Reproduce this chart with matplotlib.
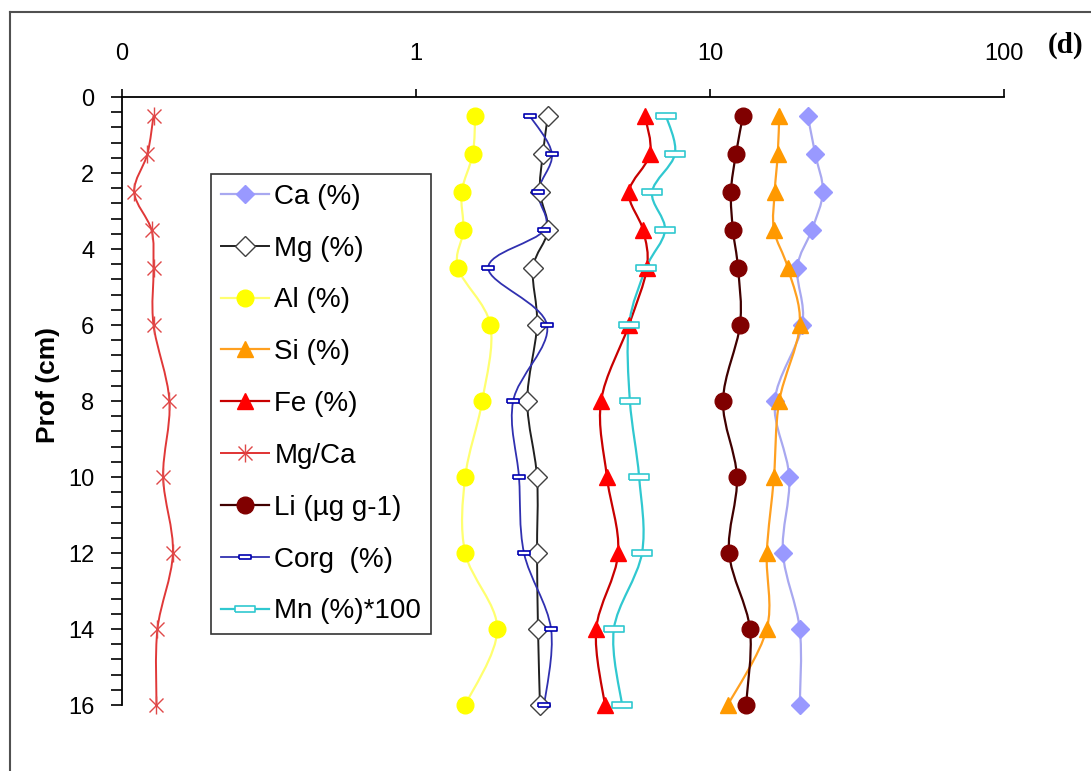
import numpy as np
import matplotlib
matplotlib.use('Agg')
import matplotlib.pyplot as plt
from matplotlib.path import Path
from matplotlib.patches import PathPatch
from matplotlib.lines import Line2D
from matplotlib.ticker import MultipleLocator
from matplotlib.legend_handler import HandlerTuple

# ---------------- data ----------------
depth = [0.5, 1.5, 2.5, 3.5, 4.5, 6, 8, 10, 12, 14, 16]
ca   = [21.5, 22.8, 24.2, 22.2, 19.8, 20.6, 16.6, 18.6, 17.7, 20.2, 20.2]
mg   = [2.81, 2.70, 2.64, 2.81, 2.50, 2.58, 2.39, 2.58, 2.58, 2.60, 2.64]
al   = [1.59, 1.56, 1.43, 1.45, 1.39, 1.79, 1.68, 1.47, 1.47, 1.89, 1.47]
si   = [17.2, 17.0, 16.6, 16.5, 18.4, 20.2, 17.2, 16.5, 15.6, 15.6, 11.5]
fe   = [6.01, 6.25, 5.30, 5.92, 6.10, 5.30, 4.26, 4.46, 4.87, 4.10, 4.39]
mgca = [0.128, 0.122, 0.110, 0.126, 0.128, 0.128, 0.145, 0.138, 0.149, 0.132, 0.131]
li   = [12.95, 12.25, 11.78, 11.97, 12.45, 12.65, 11.07, 12.35, 11.61, 13.68, 13.26]
corg = [2.44, 2.90, 2.60, 2.73, 1.76, 2.79, 2.14, 2.24, 2.33, 2.88, 2.73]
mn   = [7.09, 7.60, 6.35, 7.03, 6.06, 5.30, 5.34, 5.74, 5.87, 4.71, 5.02]

x_ticks = [0.1, 1, 10, 100]
x_ticklabels = ['0', '1', '10', '100']
y_ticks = [0, 2, 4, 6, 8, 10, 12, 14, 16]

labels = ['Ca (%)', 'Mg (%)', 'Al (%)', 'Si (%)', 'Fe (%)', 'Mg/Ca',
          'Li (µg g-1)', 'Corg  (%)', 'Mn (%)*100']

plt.rcParams['font.family'] = ['Liberation Sans', 'DejaVu Sans']

W, H = 1091, 771
fig = plt.figure(figsize=(W / 100, H / 100), dpi=100)
ax = fig.add_axes([122 / W, 1 - 705 / H, (1004 - 122) / W, (705 - 97) / H])


def smooth_path(xs, ys):
    pts = np.column_stack([np.log10(np.asarray(xs, float)), np.asarray(ys, float)])
    n = len(pts)
    verts = [pts[0]]
    codes = [Path.MOVETO]
    for i in range(n - 1):
        p0 = pts[i - 1] if i > 0 else pts[i]
        p1 = pts[i]
        p2 = pts[i + 1]
        p3 = pts[i + 2] if i + 2 < n else pts[i + 1]
        c1 = p1 + (p2 - p0) / 6.0
        c2 = p2 - (p3 - p1) / 6.0
        verts += [c1, c2, p2]
        codes += [Path.CURVE4] * 3
    verts = np.array(verts)
    verts[:, 0] = 10 ** verts[:, 0]
    return Path(verts, codes)


dash_marker = [(-1, -0.3), (1, -0.3), (1, 0.3), (-1, 0.3), (-1, -0.3)]

series = [
    # values, line colour, lw, marker, size, face, edge, mew
    (ca,   '#A8A8F0', 1.6, 'D', 9,  '#9999FF', '#9999FF', 1.0),
    (mg,   '#202020', 1.4, 'D', 10, 'white',   '#404040', 1.0),
    (al,   '#FFFF70', 1.6, 'o', 12, '#FFFF00', '#FFFF00', 1.0),
    (si,   '#FFA020', 1.6, '^', 12, '#FF9900', '#FF9900', 1.0),
    (fe,   '#C80000', 1.6, '^', 12, '#FF0000', '#FF0000', 1.0),
    (mgca, '#E03838', 1.4, None, 13, '#E04848', '#E04848', 1.0),
    (li,   '#400000', 1.6, 'o', 12, '#800000', '#800000', 1.0),
    (corg, '#3030B0', 1.3, dash_marker, 9, 'white', '#0000B0', 1.2),
    (mn,   '#30C8D0', 1.6, dash_marker, 15, 'white', '#30C8D0', 1.2),
]

handles = []
for (vals, lc, lw, mk, ms, fc, ec, mew), lab in zip(series, labels):
    patch = PathPatch(smooth_path(vals, depth), fill=False, edgecolor=lc,
                      linewidth=lw, clip_on=False, zorder=2)
    ax.add_patch(patch)
    if mk is None:
        ax.plot(vals, depth, ls='none', marker='x', ms=ms * 0.8, mec=ec,
                mew=mew, clip_on=False, zorder=3)
        ax.plot(vals, depth, ls='none', marker='|', ms=ms, mec=ec,
                mew=mew, clip_on=False, zorder=3)
        h = (Line2D([], [], color=lc, lw=lw, marker='x', ms=ms * 0.8, mec=ec, mew=mew),
             Line2D([], [], color=lc, lw=lw, marker='|', ms=ms, mec=ec, mew=mew))
    else:
        ax.plot(vals, depth, ls='none', marker=mk, ms=ms, mfc=fc, mec=ec,
                mew=mew, clip_on=False, zorder=3)
        h = Line2D([], [], color=lc, lw=lw, marker=mk, ms=ms, mfc=fc, mec=ec, mew=mew)
    handles.append(h)

ax.set_xscale('log')
ax.set_xlim(0.1, 100)
ax.set_ylim(16, 0)
ax.xaxis.tick_top()
ax.set_xticks(x_ticks)
ax.set_xticklabels(x_ticklabels)
ax.xaxis.set_minor_locator(matplotlib.ticker.NullLocator())
ax.set_yticks(y_ticks)
ax.yaxis.set_minor_locator(MultipleLocator(0.4))
ax.tick_params(axis='x', which='major', direction='out', length=6, width=1.2,
               pad=17, labelsize=17, colors='black')
ax.tick_params(axis='y', which='both', direction='out', length=8, width=1.2,
               pad=12, labelsize=17)
for s in ['right', 'bottom']:
    ax.spines[s].set_visible(False)
for s in ['top', 'left']:
    ax.spines[s].set_linewidth(1.3)
ax.patch.set_visible(False)

leg = fig.legend(handles, labels, loc='upper left',
                 bbox_to_anchor=(211 / W, 1 - 174 / H),
                 bbox_transform=fig.transFigure, borderaxespad=0,
                 frameon=True, fancybox=False, edgecolor='black',
                 fontsize=20, handlelength=1.75, handletextpad=0.18,
                 labelspacing=0.93, borderpad=0.35,
                 handler_map={tuple: HandlerTuple(ndivide=1, pad=0)})
leg.get_frame().set_linewidth(1.2)

fig.text(48 / W, 1 - 385 / H, 'Prof (cm)', rotation=90, ha='center',
         va='center', fontsize=19, fontweight='bold')
fig.text(1066 / W, 1 - 45 / H, '(d)', family='Liberation Serif',
         fontweight='bold', fontsize=21, ha='center', va='center')

# outer frame
fig.add_artist(Line2D([10 / W, 1], [1 - 12 / H, 1 - 12 / H],
                      transform=fig.transFigure, color='#505050', lw=1.5))
fig.add_artist(Line2D([10 / W, 10 / W], [0, 1 - 12 / H],
                      transform=fig.transFigure, color='#505050', lw=1.5))

fig.savefig('out.png', dpi=100)
